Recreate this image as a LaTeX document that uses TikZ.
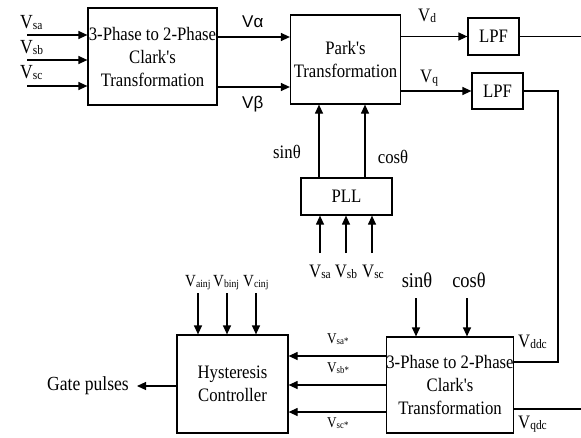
\documentclass[tikz,border=0pt]{standalone}
\usepackage{fontspec}
\setmainfont{Liberation Serif}[FakeStretch=0.88,Ligatures=TeXOff]
\newfontfamily\sansf{Liberation Sans}
\usetikzlibrary{arrows.meta,calc}
\newcommand{\Vx}[3]{{\fontsize{#1}{#1}\selectfont V\raisebox{-0.2ex}{\fontsize{#2}{#2}\selectfont #3}}}
\begin{document}
\begin{tikzpicture}[x=1pt,y=-1pt,
  blk/.style={draw,line width=1.2pt,inner sep=0pt,align=center,font=\fontsize{19}{23}\selectfont},
  arr/.style={line width=1.2pt,-{Triangle[length=9pt,width=8pt]}},
  ln/.style={line width=1.2pt},
  lbl/.style={inner sep=0pt,font=\fontsize{19}{19}\selectfont}]
\useasboundingbox (0,0) rectangle (581,437);
% boxes
\node[blk,minimum width=129pt,minimum height=97pt] (clark1) at (152.5,56.5) {3-Phase to 2-Phase\\Clark's\\Transformation};
\node[blk,minimum width=110pt,minimum height=89pt] (park) at (345.5,59.5) {Park's\\Transformation};
\node[blk,minimum width=51pt,minimum height=37pt] (lpf1) at (493.5,36.5) {LPF};
\node[blk,minimum width=51pt,minimum height=36pt] (lpf2) at (497.5,91) {LPF};
\node[blk,minimum width=91pt,minimum height=37pt] (pll) at (346.5,196.5) {PLL};
\node[blk,minimum width=126pt,minimum height=96pt] (clark2) at (450,385) {3-Phase to 2-Phase\\Clark's\\Transformation};
\node[blk,minimum width=111pt,minimum height=98pt] (hyst) at (232.5,384) {Hysteresis\\Controller};
% free ends
\coordinate (i1) at (27,35);
\coordinate (i2) at (27,60);
\coordinate (i3) at (27,86);
\coordinate (re) at (581,0);
\coordinate (turn) at (558,362);
\coordinate (p1) at (320,253);
\coordinate (p2) at (346,253);
\coordinate (p3) at (372,253);
\coordinate (c1) at (416,298);
\coordinate (c2) at (467,298);
\coordinate (h1) at (198,293);
\coordinate (h2) at (227,293);
\coordinate (h3) at (256,293);
\coordinate (gp) at (137,386);
% connectors
\draw[arr] (i1) -- (i1 -| clark1.west);
\draw[arr] (i2) -- (i2 -| clark1.west);
\draw[arr] (i3) -- (i3 -| clark1.west);
\draw[arr] (clark1.east |- 0,37) -- (park.west |- 0,37);
\draw[arr] (clark1.east |- 0,87) -- (park.west |- 0,87);
\draw[arr] (park.east |- lpf1.west) -- (lpf1.west);
\draw[arr] (park.east |- lpf2.west) -- (lpf2.west);
\draw[ln] (lpf1.east) -- (lpf1.east -| re);
\draw[ln] (lpf2.east) -| (turn) -- (turn -| clark2.east);
\draw[ln] (clark2.east |- 0,409) -- (re |- 0,409);
\draw[arr] (pll.north -| 319,0) -- (park.south -| 319,0);
\draw[arr] (pll.north -| 365,0) -- (park.south -| 365,0);
\draw[arr] (p1) -- (p1 |- pll.south);
\draw[arr] (p2) -- (p2 |- pll.south);
\draw[arr] (p3) -- (p3 |- pll.south);
\draw[arr] (c1) -- (c1 |- clark2.north);
\draw[arr] (c2) -- (c2 |- clark2.north);
\draw[arr] (clark2.west |- 0,356) -- (hyst.east |- 0,356);
\draw[arr] (clark2.west |- 0,385) -- (hyst.east |- 0,385);
\draw[arr] (clark2.west |- 0,412) -- (hyst.east |- 0,412);
\draw[arr] (h1) -- (h1 |- hyst.north);
\draw[arr] (h2) -- (h2 |- hyst.north);
\draw[arr] (h3) -- (h3 |- hyst.north);
\draw[arr] (hyst.west |- gp) -- (gp);
% labels
\node[lbl,anchor=base west] (lsa) at (20,28) {\Vx{20}{13}{sa}};
\node[lbl,anchor=base west] (lsb) at (20,53) {\Vx{20}{13}{sb}};
\node[lbl,anchor=base west] (lsc) at (20,78) {\Vx{20}{13}{sc}};
\node[lbl,anchor=base west,font=\sansf\fontsize{17}{17}\selectfont] (lal) at (242,27) {Vα};
\node[lbl,anchor=base west,font=\sansf\fontsize{17}{17}\selectfont] (lbe) at (242,108) {Vβ};
\node[lbl,anchor=base west] (ld) at (418,21) {\Vx{19}{13}{d}};
\node[lbl,anchor=base west] (lq) at (420,82) {\Vx{19}{13}{q}};
\node[lbl,anchor=base] (ls1) at (287,158) {sinθ};
\node[lbl,anchor=base] (lc1) at (393,163) {cosθ};
\node[lbl,anchor=base] (lp1) at (320,277) {\Vx{19}{13}{sa}};
\node[lbl,anchor=base] (lp2) at (346,277) {\Vx{19}{13}{sb}};
\node[lbl,anchor=base] (lp3) at (373,277) {\Vx{19}{13}{sc}};
\node[lbl,anchor=base,font=\fontsize{21}{21}\selectfont] (ls2) at (417,287) {sinθ};
\node[lbl,anchor=base,font=\fontsize{21}{21}\selectfont] (lc2) at (469,287) {cosθ};
\node[lbl,anchor=base west] (ldd) at (518,347) {\Vx{19}{13}{ddc}};
\node[lbl,anchor=base west] (lqd) at (518,428) {\Vx{19}{13}{qdc}};
\node[lbl,anchor=base west] (ls3) at (327,343) {\Vx{15}{10}{sa*}};
\node[lbl,anchor=base west] (ls4) at (327,372) {\Vx{15}{10}{sb*}};
\node[lbl,anchor=base west] (ls5) at (327,427) {\Vx{15}{10}{sc*}};
\node[lbl,anchor=base west] (li1) at (185,286) {\Vx{17}{11}{ainj}};
\node[lbl,anchor=base west] (li2) at (213,286) {\Vx{17}{11}{binj}};
\node[lbl,anchor=base west] (li3) at (243,286) {\Vx{17}{11}{cinj}};
\node[lbl,anchor=base,font=\fontsize{20}{20}\selectfont] (lgp) at (88,390) {Gate pulses};
\end{tikzpicture}
\end{document}
